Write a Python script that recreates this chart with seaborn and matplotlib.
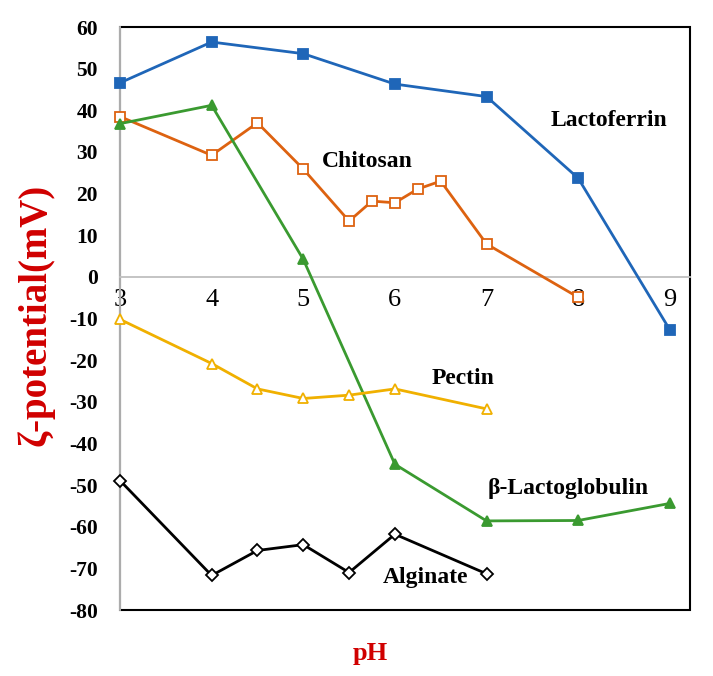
import matplotlib
matplotlib.use("Agg")
import matplotlib.pyplot as plt
import matplotlib.patches as patches
import numpy as np
import pandas as pd
import seaborn as sns

# pH values and zeta potential (mV) per biopolymer
lacto_ph = [3, 4, 5, 6, 7, 8, 9]
lacto_zeta = [46.6, 56.4, 53.6, 46.3, 43.3, 23.7, -12.7]

chitosan_ph = [3, 4, 4.5, 5, 5.5, 5.75, 6, 6.25, 6.5, 7, 8]
chitosan_zeta = [38.5, 29.2, 37.0, 25.9, 13.4, 18.2, 17.8, 21.1, 23.0, 7.9, -4.9]

blg_ph = [3, 4, 5, 6, 7, 8, 9]
blg_zeta = [36.8, 41.2, 4.2, -45.0, -58.6, -58.5, -54.4]

pectin_ph = [3, 4, 4.5, 5, 5.5, 6, 7]
pectin_zeta = [-10.2, -20.8, -26.9, -29.2, -28.4, -26.9, -31.7]

alginate_ph = [3, 4, 4.5, 5, 5.5, 6, 7]
alginate_zeta = [-48.9, -71.7, -65.7, -64.3, -71.0, -61.8, -71.3]

x_ticks = [3, 4, 5, 6, 7, 8, 9]
y_ticks = list(range(-80, 61, 10))

# name: (ph, zeta, color, marker, filled, label position)
SERIES = {
    "Lactoferrin":     (lacto_ph, lacto_zeta, "#1F66B8", "s", True, (8.34, 37.6)),
    "Chitosan":        (chitosan_ph, chitosan_zeta, "#DD6210", "s", False, (5.70, 27.7)),
    "β-Lactoglobulin": (blg_ph, blg_zeta, "#3A9A30", "^", True, (7.89, -50.9)),
    "Pectin":          (pectin_ph, pectin_zeta, "#F0B000", "^", False, (6.74, -24.3)),
    "Alginate":        (alginate_ph, alginate_zeta, "#000000", "D", False, (6.33, -72.3)),
}

sns.set_theme(style="white")
plt.rcParams["font.family"] = ["Liberation Serif", "DejaVu Serif"]

fig = plt.figure(figsize=(7.13, 6.76), dpi=100)
ax = fig.add_axes([0.1683, 0.0976, 0.7994, 0.8624])

for name, (ph, zeta, color, marker, filled, pos) in SERIES.items():
    df = pd.DataFrame({"pH": ph, "zeta": zeta})
    ms = 6.5 if marker == "D" else 7.5
    sns.lineplot(data=df, x="pH", y="zeta", ax=ax, color=color, linewidth=2.0,
                 marker=marker, markersize=ms, markeredgewidth=1.3,
                 markeredgecolor=color,
                 markerfacecolor=color if filled else "white",
                 estimator=None, sort=False, clip_on=False, zorder=3)
    ax.text(pos[0], pos[1], name, fontsize=17, fontweight="bold",
            ha="center", va="center", color="black")

ax.set_xlim(3, 9.22)
ax.set_ylim(-80, 60)

# x axis crosses at zero, black frame around the plot area
ax.spines["bottom"].set_position(("data", 0))
ax.spines["bottom"].set_color("#BFBFBF")
ax.spines["left"].set_color("#BFBFBF")
for s in ["bottom", "left"]:
    ax.spines[s].set_linewidth(1.3)
ax.spines[["top", "right"]].set_visible(False)
ax.add_patch(patches.Rectangle((0, 0), 1, 1, transform=ax.transAxes, fill=False,
                               edgecolor="black", linewidth=1.5, zorder=1,
                               clip_on=False))

ax.set_xticks(x_ticks)
ax.set_yticks(y_ticks)
ax.set_xticklabels([str(t) for t in x_ticks], fontsize=19)
ax.set_yticklabels([str(t) for t in y_ticks], fontsize=15.5, fontweight="bold")
ax.tick_params(axis="x", direction="out", length=6, width=1.2, color="#BFBFBF",
               labelcolor="black", pad=3)
ax.tick_params(axis="y", direction="out", length=6, width=1.2, color="#BFBFBF",
               labelcolor="black", pad=10)
ax.grid(False)

ax.set_xlabel("")
ax.set_ylabel("")
fig.text(0.050, 0.534, "ζ-potential(mV)", rotation=90, fontsize=28,
         fontweight="bold", color="#D00000", ha="center", va="center")
fig.text(0.519, 0.034, "pH", fontsize=19, fontweight="bold", color="#D00000",
         ha="center", va="center")

fig.savefig("out.png", dpi=100, facecolor="white")
plt.close(fig)
